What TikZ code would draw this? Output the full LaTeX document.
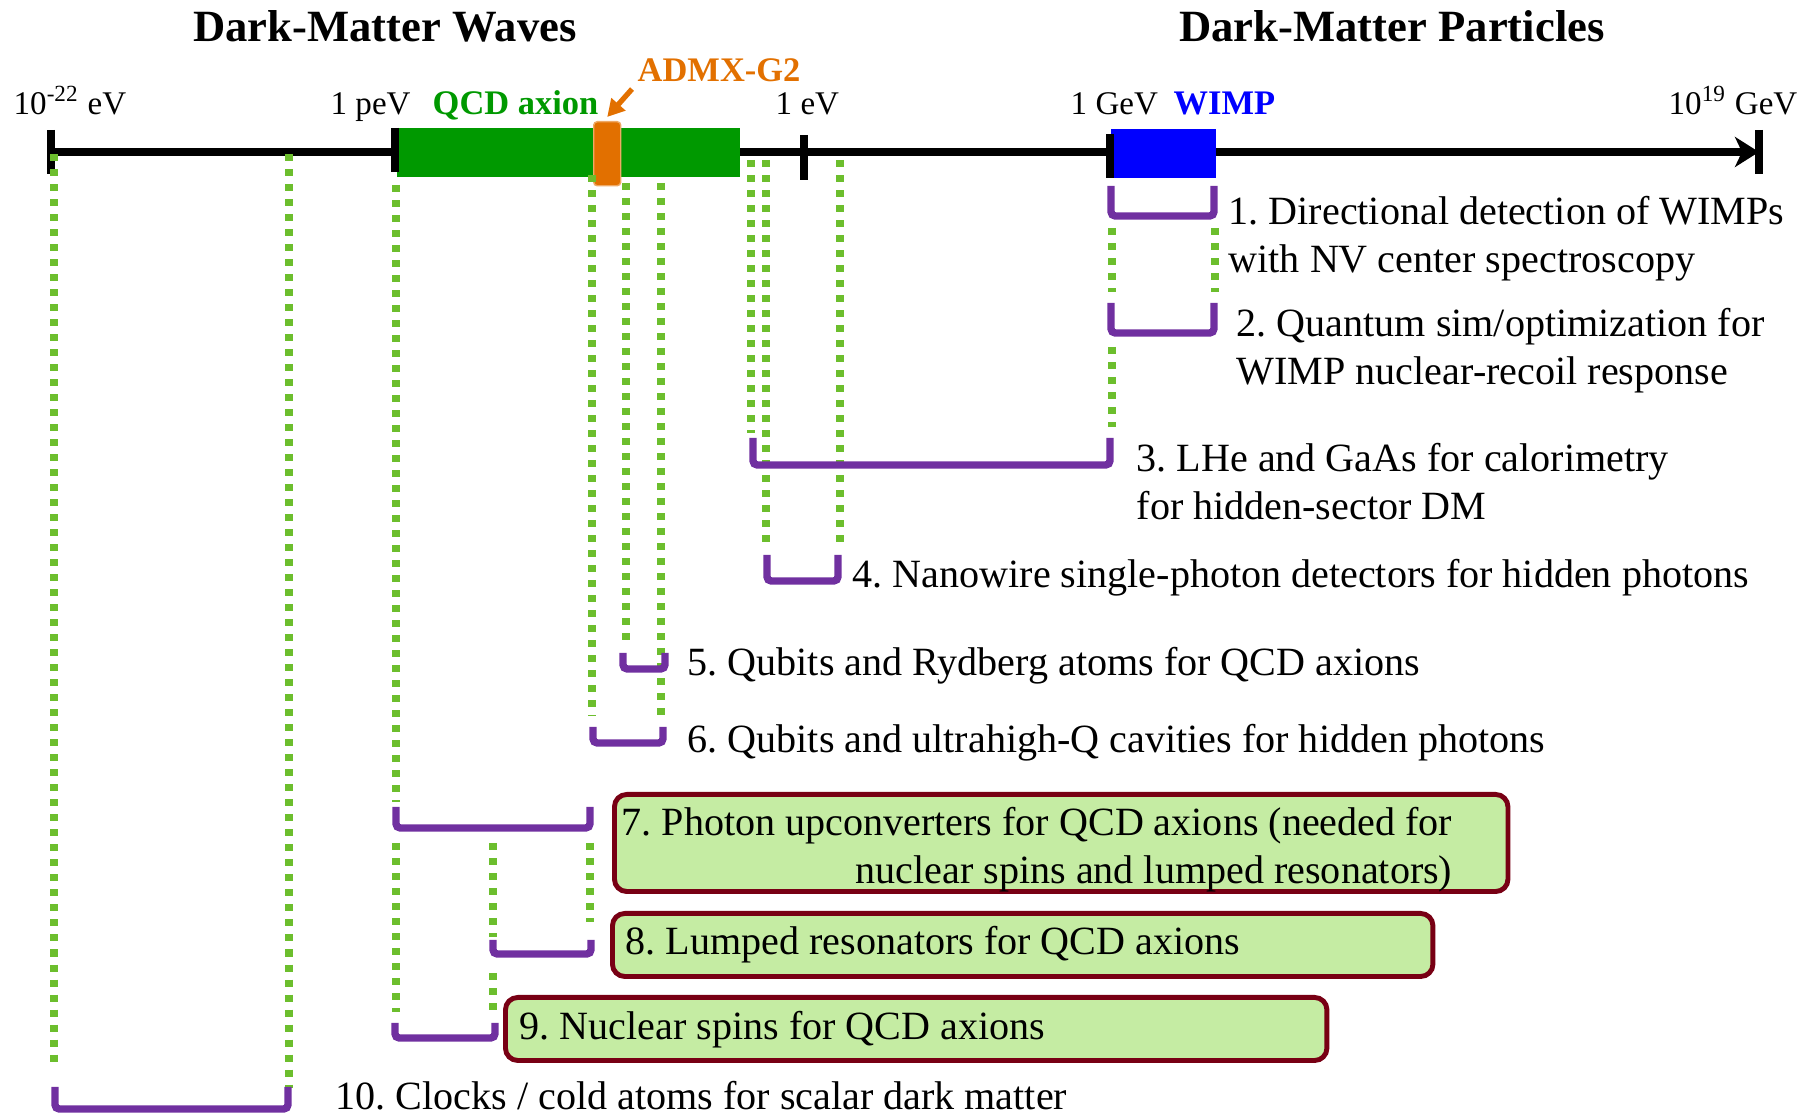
\documentclass[tikz,border=0pt]{standalone}
\usepackage{fontspec}
\setmainfont{Liberation Serif}
\usepackage{tikz}
\usetikzlibrary{positioning,arrows.meta,shapes}
\frenchspacing
\definecolor{axiongreen}{RGB}{0,153,0}
\definecolor{dotgreen}{RGB}{108,190,45}
\definecolor{admxorange}{RGB}{226,112,0}
\definecolor{brackpurple}{RGB}{112,48,160}
\definecolor{boxfill}{RGB}{197,236,163}
\definecolor{boxred}{RGB}{120,0,20}
\tikzstyle{title}=[anchor=base, inner sep=0pt, font=\fontsize{12.7}{14}\selectfont\bfseries]
\tikzstyle{scalelbl}=[anchor=base west, inner sep=0pt, font=\fontsize{9.4}{11}\selectfont]
\tikzstyle{darklbl}=[anchor=base west, inner sep=0pt, font=\fontsize{9.8}{11}\selectfont\bfseries]
\tikzstyle{itemtext}=[anchor=base west, inner sep=0pt, align=left, font=\fontsize{11.4}{13.8}\selectfont]
\tikzstyle{band}=[inner sep=0pt, minimum height=0.49cm, anchor=north west]
\tikzstyle{tick}=[line width=2.3pt]
\tikzstyle{dotline}=[draw=dotgreen, line width=2pt, dash pattern=on 0.07cm off 0.08cm]
\tikzstyle{ubrack}=[draw=brackpurple, line width=2.1pt, rounded corners=1.2pt]
\tikzstyle{greenbox}=[draw=boxred, fill=boxfill, line width=1.4pt, rounded corners=3.5pt, inner sep=0pt, anchor=north west]

\begin{document}
\begin{tikzpicture}[x=0.01cm,y=-0.01cm,>=latex]
\useasboundingbox (0,0) rectangle (1811,1116);

\node[title] (wavesTitle) at (385,42) {Dark-Matter Waves};
\node[title] (particlesTitle) at (1392,42) {Dark-Matter Particles};

% mass axis
\coordinate (lo) at (51,152);
\coordinate (hi) at (1759,152);
\draw[line width=2pt, -{Stealth[length=0.24cm, width=0.3cm, inset=0.07cm]}] (lo) -- (hi);

\node[band, fill=axiongreen, minimum width=3.43cm] (qcdBand) at (396,127) {};
\node[band, fill=blue, minimum width=1.05cm] (wimpBand) at (1110,128) {};
\node[band, fill=admxorange, draw=admxorange!60, rounded corners=1pt, minimum width=0.27cm, minimum height=0.64cm] (admxBand) at (593,121) {};

\foreach \x/\a/\b in {51/130/174, 395/128/172, 804/135/180, 1110/134/178, 1759/130/174}
  \draw[tick] (\x,\a) -- (\x,\b);

\node[scalelbl] (lblLow) at (13,115) {10\textsuperscript{-22} eV};
\node[scalelbl] (lblPeV) at (330,115) {1 peV};
\node[darklbl, text=axiongreen] (lblQCD) at (432,115) {QCD axion};
\node[darklbl, text=admxorange] (lblADMX) at (637,82) {ADMX-G2};
\node[scalelbl] (lblEV) at (775,115) {1 eV};
\node[scalelbl] (lblGeV) at (1070,115) {1 GeV};
\node[darklbl, text=blue] (lblWIMP) at (1173,115) {WIMP};
\node[scalelbl] (lblHigh) at (1668,115) {10\textsuperscript{19} GeV};
\draw[admxorange, line width=1.5pt, -{Triangle[length=0.17cm, width=0.18cm]}] ([xshift=-0.05cm, yshift=-0.06cm]lblADMX.south west) -- ([yshift=0.04cm]admxBand.north);

% mass ranges
\foreach \x/\a/\b in {54/154/1065, 289/154/1088, 396/185/802, 396/843/1012, 493/843/937, 493/973/1012,
  590/843/922, 592/175/716, 626/183/645, 661/183/716, 751/160/433, 766/160/550, 840/160/550,
  1112/228/292, 1215/228/292, 1112/347/427}
  \draw[dotline] (\x,\a) -- (\x,\b);

\foreach \l/\r/\t/\b in {1111/1214/186/216, 1111/1214/303/333, 753/1110/438/465, 767/838/555/581,
  623/665/653/669, 593/663/727/743, 396/590/807/828, 493/591/940/954, 395/495/1023/1038, 55/288/1087/1109}
  \draw[ubrack] (\l,\t) |- (\r,\b) -- (\r,\t);

\node[greenbox, minimum width=8.93cm, minimum height=0.97cm] (box7) at (612,792) {};
\node[greenbox, minimum width=8.20cm, minimum height=0.63cm] (box8) at (610,911) {};
\node[greenbox, minimum width=8.21cm, minimum height=0.63cm] (box9) at (503,995) {};

% two-line texts sit on the baseline of their last line
\node[itemtext] (item1) at (1228,273) {1. Directional detection of WIMPs\\with NV center spectroscopy};
\node[itemtext] (item2) at (1236,385) {2. Quantum sim/optimization for\\WIMP nuclear-recoil response};
\node[itemtext] (item3) at (1136,520) {3. LHe and GaAs for calorimetry\\for hidden-sector DM};
\node[itemtext] (item4) at (852,588) {4. Nanowire single-photon detectors for hidden photons};
\node[itemtext] (item5) at (687,676) {5. Qubits and Rydberg atoms for QCD axions};
\node[itemtext] (item6) at (687,753) {6. Qubits and ultrahigh-Q cavities for hidden photons};
\node[itemtext, anchor=base east, align=right] (item7) at (1453,884) {7. Photon upconverters for QCD axions (needed for\\nuclear spins and lumped resonators)};
\node[itemtext] (item8) at (625,955) {8. Lumped resonators for QCD axions};
\node[itemtext] (item9) at (519,1040) {9. Nuclear spins for QCD axions};
\node[itemtext] (item10) at (335,1110) {10. Clocks / cold atoms for scalar dark matter};
\end{tikzpicture}
\end{document}
